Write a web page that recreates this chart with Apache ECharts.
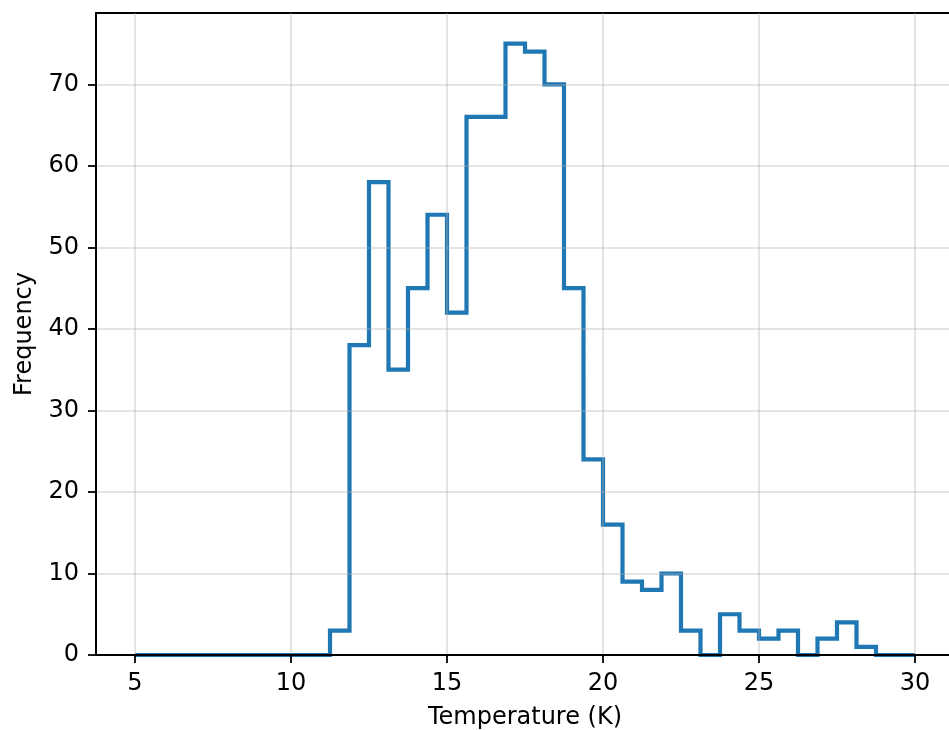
<!DOCTYPE html>
<html>
<head>
<meta charset="utf-8">
<script src="https://cdn.jsdelivr.net/npm/echarts@6/dist/echarts.min.js"></script>
<style>
  html, body { margin: 0; padding: 0; background: #fff; }
  #chart { width: 949px; height: 730px; }
</style>
</head>
<body>
<div id="chart"></div>
<script>
// Histogram of temperatures: 40 equal bins spanning 5 K to 30 K
const binStart = 5;
const binEnd = 30;
const binCount = 40;
const counts = [
  0, 0, 0, 0, 0, 0, 0, 0, 0, 0,
  3, 38, 58, 35, 45, 54, 42, 66, 66, 75,
  74, 70, 45, 24, 16, 9, 8, 10, 3, 0,
  5, 3, 2, 3, 0, 2, 4, 1, 0, 0
];
const xTicks = [5, 10, 15, 20, 25, 30];
const yTicks = [0, 10, 20, 30, 40, 50, 60, 70];

const binWidth = (binEnd - binStart) / binCount;
// Step outline: each bin's left edge with its count, then close down at the right end
const outline = counts.map((c, i) => [binStart + i * binWidth, c]);
outline.push([binEnd, 0]);

const xPad = (binEnd - binStart) * 0.05;
const yMax = Math.max(...counts) * 1.05;

const font = 'DejaVu Sans';
const fontSize = 24;
// translucent grid, drawn above the outline
const gridLine = { color: 'rgba(176,176,176,0.45)', width: 1.5 };

const chart = echarts.init(document.getElementById('chart'), null, { renderer: 'canvas' });
chart.setOption({
  animation: false,
  backgroundColor: '#ffffff',
  grid: {
    left: 96, top: 13, width: 858, height: 642,
    outerBoundsMode: 'none',
    show: true, borderColor: '#000', borderWidth: 1.8, backgroundColor: '#fff'
  },
  xAxis: {
    type: 'value',
    z: 5,
    min: binStart - xPad,
    max: binEnd + xPad,
    name: 'Temperature (K)',
    nameLocation: 'middle',
    nameGap: 51,
    nameTextStyle: { fontFamily: font, fontSize: fontSize, color: '#000' },
    axisLine: { show: true, onZero: false, lineStyle: { color: '#000', width: 1.8 } },
    axisTick: { show: true, length: 8, customValues: xTicks, lineStyle: { color: '#000', width: 1.8 } },
    axisLabel: { customValues: xTicks, margin: 17, fontFamily: font, fontSize: fontSize, color: '#000' },
    splitLine: { show: true, lineStyle: gridLine }
  },
  yAxis: {
    type: 'value',
    z: 5,
    min: 0,
    max: yMax,
    name: 'Frequency',
    nameLocation: 'middle',
    nameGap: 59,
    nameRotate: 90,
    nameTextStyle: { fontFamily: font, fontSize: fontSize, color: '#000' },
    axisLine: { show: true, lineStyle: { color: '#000', width: 1.8 } },
    axisTick: { show: true, length: 8, customValues: yTicks, lineStyle: { color: '#000', width: 1.8 } },
    axisLabel: { customValues: yTicks, margin: 17, fontFamily: font, fontSize: fontSize, color: '#000' },
    splitLine: { show: true, lineStyle: gridLine }
  },
  series: [{
    type: 'line',
    z: 2,
    step: 'end',
    data: outline,
    showSymbol: false,
    symbol: 'none',
    clip: false,
    lineStyle: { color: '#1f77b4', width: 4.2, join: 'miter' }
  }]
});
</script>
</body>
</html>
